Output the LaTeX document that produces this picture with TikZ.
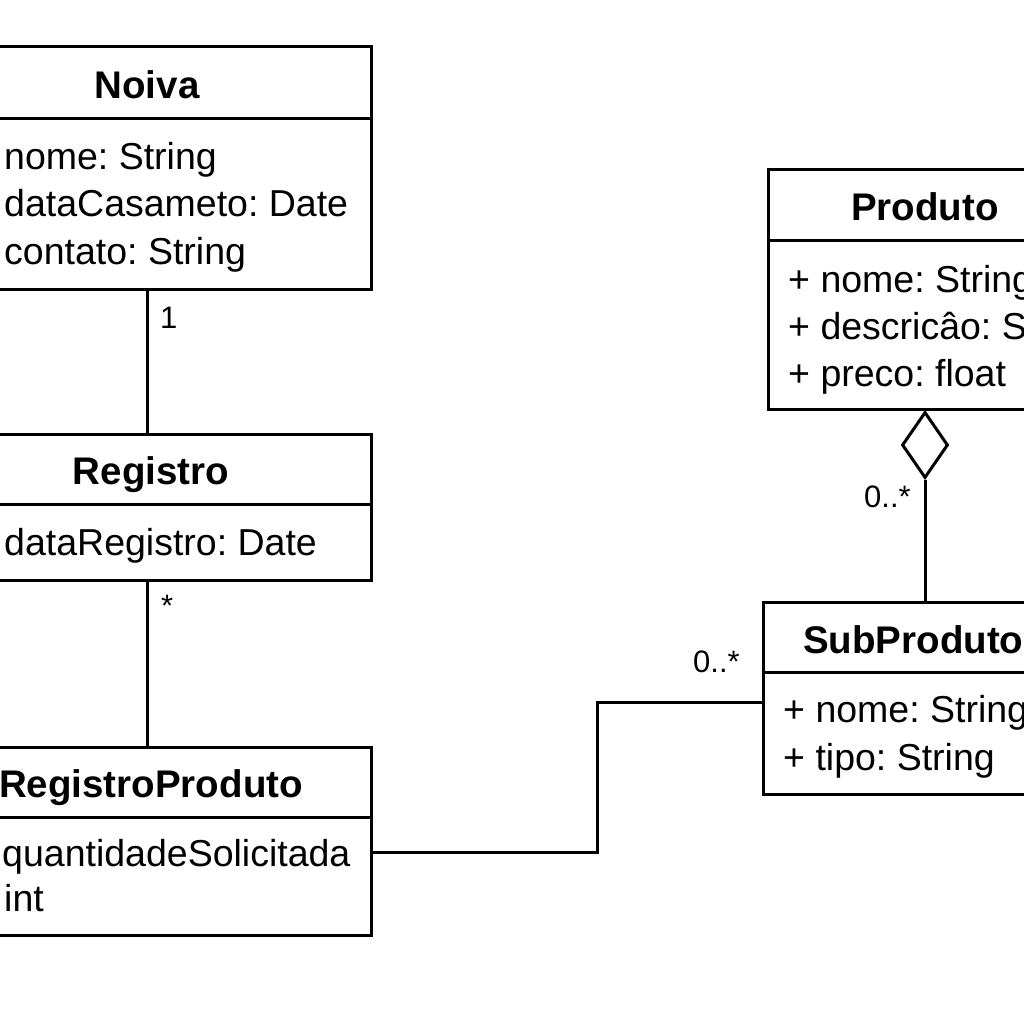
\documentclass[tikz,border=0pt]{standalone}
\usepackage{fontspec}
\setmainfont{Liberation Sans}
\usetikzlibrary{shapes.geometric}
\frenchspacing
\begin{document}
\begin{tikzpicture}[x=1pt,y=-1pt,
  classbox/.style={draw=black,line width=3pt,rectangle,inner sep=0pt},
  ttl/.style={font=\fontsize{38.5}{38.5}\selectfont\bfseries,inner sep=0pt,anchor=base},
  attr/.style={font=\fontsize{37.5}{37.5}\selectfont,inner sep=0pt,anchor=base west},
  mult/.style={font=\fontsize{31}{31}\selectfont,inner sep=0pt,anchor=base west},
  conn/.style={draw=black,line width=3pt},
  agg/.style={draw=black,fill=white,line width=3pt,diamond,aspect=0.7,inner sep=0pt,minimum width=46pt,minimum height=66pt}]
\useasboundingbox (0,0) rectangle (1024,1024);
\clip (0,0) rectangle (1024,1024);
\fill[white] (0,0) rectangle (1024,1024);
% Noiva
\node[classbox,minimum width=448pt,minimum height=242pt] (noiva) at (147,168) {};
\draw[conn] (noiva.west |- 0,119) -- (noiva.east |- 0,119);
\node[ttl] (noivaT) at (147,99) {Noiva};
\node[attr] (noivaA1) at (4,170) {nome: String};
\node[attr] (noivaA2) at (4,217) {dataCasameto: Date};
\node[attr] (noivaA3) at (4,264) {contato: String};
% Registro
\node[classbox,minimum width=448pt,minimum height=146pt] (reg) at (147,507) {};
\draw[conn] (reg.west |- 0,504) -- (reg.east |- 0,504);
\node[ttl] (regT) at (151,484) {Registro};
\node[attr] (regA1) at (4,555) {dataRegistro: Date};
% RegistroProduto
\node[classbox,minimum width=448pt,minimum height=188pt] (rp) at (147,841) {};
\draw[conn] (rp.west |- 0,817) -- (rp.east |- 0,817);
\node[ttl] (rpT) at (151,797) {RegistroProduto};
\node[attr] (rpA1) at (2,866) {quantidadeSolicitada};
\node[attr] (rpA2) at (4,911) {int};
% Produto
\node[classbox,minimum width=314pt,minimum height=239pt] (prod) at (925,289.5) {};
\draw[conn] (prod.west |- 0,240) -- (prod.east |- 0,240);
\node[ttl] (prodT) at (925,221) {Produto};
\node[attr] (prodA1) at (788,292) {+ nome: String};
\node[attr] (prodA2) at (788,339) {+ descricâo: String};
\node[attr] (prodA3) at (788,386) {+ preco: float};
% SubProduto
\node[classbox,minimum width=324pt,minimum height=192pt] (sub) at (925,698) {};
\draw[conn] (sub.west |- 0,672) -- (sub.east |- 0,672);
\node[ttl,anchor=base west] (subT) at (803,653) {SubProduto};
\node[attr] (subA1) at (783,722) {+ nome: String};
\node[attr] (subA2) at (783,770) {+ tipo: String};
% aggregation
\node[agg,anchor=north] (dia) at (prod.south) {};
\draw[conn] (dia.south) -- (sub.north -| dia.south);
\node[mult] (m1) at (864,507) {0..*};
% Noiva - Registro
\draw[conn] (noiva.south) -- (reg.north);
\node[mult] (m2) at (160,328) {1};
% Registro - RegistroProduto
\draw[conn] (reg.south) -- (rp.north);
\node[mult] (m3) at (161,616) {*};
% RegistroProduto - SubProduto
\coordinate (bendA) at (597,852);
\coordinate (bendB) at (597,702);
\draw[conn] (rp.east |- 0,852) -- (bendA) -- (bendB) -- (sub.west |- 0,702);
\node[mult] (m4) at (693,672) {0..*};
\end{tikzpicture}
\end{document}
